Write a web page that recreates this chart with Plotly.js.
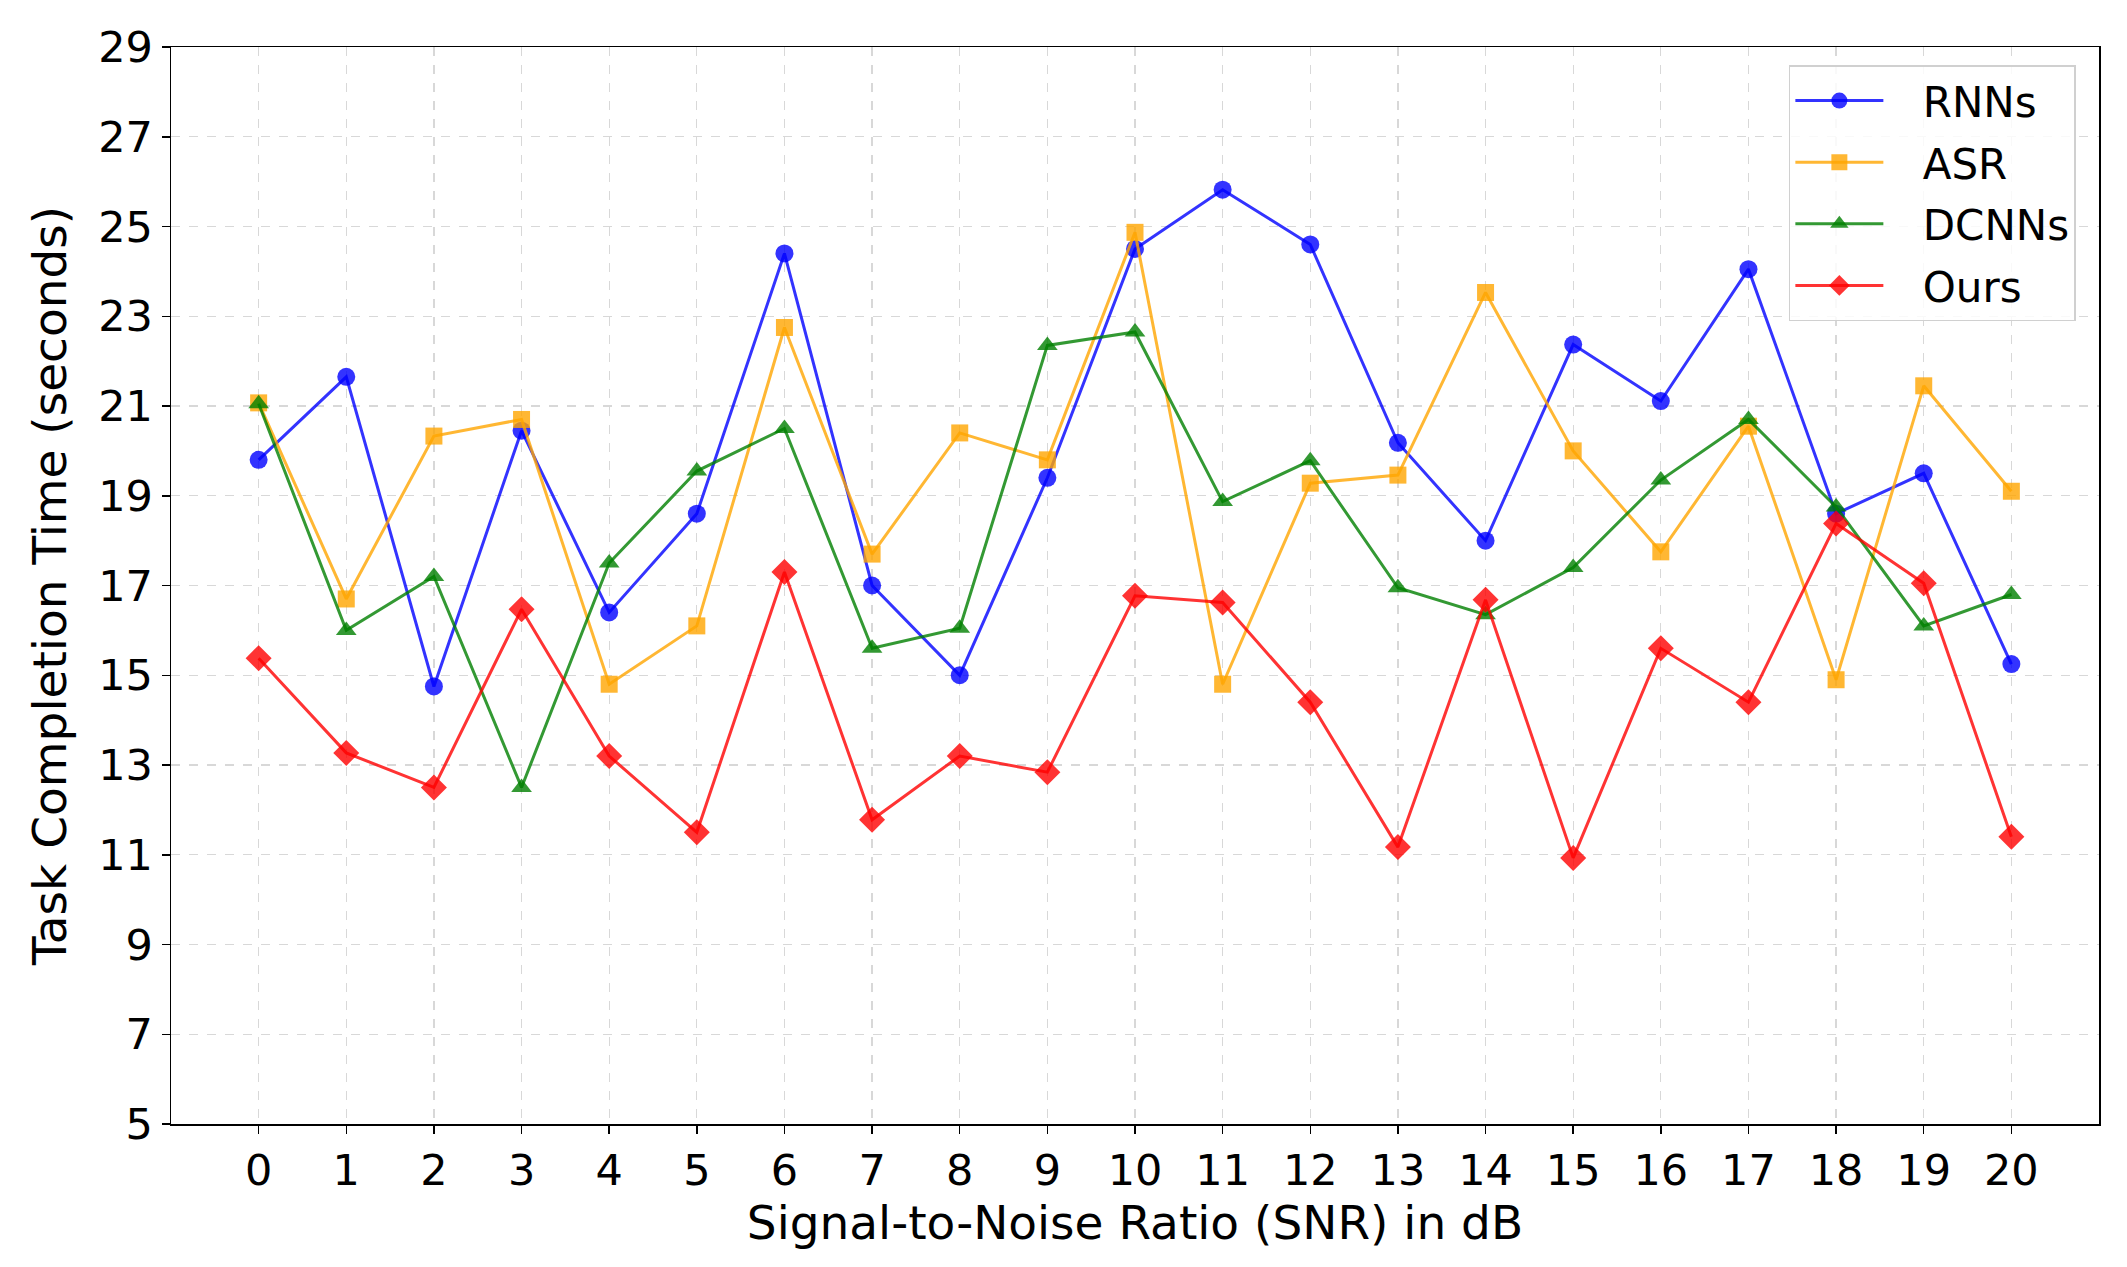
<!DOCTYPE html>
<html>
<head>
<meta charset="utf-8">
<script src="https://cdn.plot.ly/plotly-3.0.1.min.js"></script>
<style>html,body{margin:0;padding:0;background:#fff;}#chart{width:2127px;height:1267px;}</style>
</head>
<body>
<div id="chart"></div>
<script>
const snr = [0,1,2,3,4,5,6,7,8,9,10,11,12,13,14,15,16,17,18,19,20];
const tickLabels = ["0","1","2","3","4","5","6","7","8","9","10","11","12","13","14","15","16","17","18","19","20"];
const seriesNames = ["RNNs", "ASR", "DCNNs", "Ours"];
const rnns  = [19.8, 21.65, 14.75, 20.45, 16.4, 18.6, 24.4, 17.0, 15.0, 19.4, 24.5, 25.82, 24.6, 20.18, 18.0, 22.37, 21.11, 24.05, 18.6, 19.5, 15.25];
const asr   = [21.07, 16.7, 20.33, 20.7, 14.8, 16.1, 22.75, 17.7, 20.4, 19.8, 24.87, 14.8, 19.28, 19.46, 23.53, 20.0, 17.75, 20.55, 14.9, 21.45, 19.1];
const dcnns = [21.05, 16.0, 17.2, 12.5, 17.5, 19.55, 20.5, 15.6, 16.05, 22.35, 22.65, 18.87, 19.78, 16.95, 16.35, 17.4, 19.35, 20.7, 18.75, 16.1, 16.8];
const ours  = [15.38, 13.27, 12.5, 16.47, 13.2, 11.5, 17.3, 11.78, 13.2, 12.84, 16.77, 16.62, 14.4, 11.17, 16.68, 10.93, 15.6, 14.4, 18.38, 17.05, 11.4];
const yTicks = [5,7,9,11,13,15,17,19,21,23,25,27,29];

const FONT = 'DejaVu Sans, sans-serif';
function tr(idx, y, color, symbol, size) {
  return {
    x: snr, y: y, name: '\u2002\u00a0' + seriesNames[idx], legendgroup: 'g' + idx,
    type: 'scatter', mode: 'lines+markers',
    line: {color: color, width: 3},
    marker: {color: color, symbol: symbol, size: size, line: {width: 0}}
  };
}
const data = [
  tr(0, rnns, 'rgba(0,0,255,0.8)', 'circle', 18),
  tr(1, asr, 'rgba(255,165,0,0.8)', 'square', 17),
  tr(2, dcnns, 'rgba(0,128,0,0.8)', 'triangle-up', 18),
  tr(3, ours, 'rgba(255,0,0,0.8)', 'diamond', 20)
];
const axisCommon = {
  showline: true, linecolor: '#000', linewidth: 1.5, mirror: true,
  ticks: 'outside', ticklen: 8, tickwidth: 1.5, tickcolor: '#000',
  showgrid: true, gridcolor: 'rgba(190,190,190,0.6)', griddash: 'dash', gridwidth: 1.3,
  zeroline: false, tickfont: {family: FONT, size: 43, color: '#000'}
};
const layout = {
  width: 2127, height: 1267,
  paper_bgcolor: '#fff', plot_bgcolor: '#fff',
  margin: {l: 171, r: 28, t: 47, b: 143},
  showlegend: true,
  xaxis: Object.assign({}, axisCommon, {
    range: [-1, 21], tickmode: 'array', tickvals: snr, ticktext: tickLabels,
    title: {text: 'Signal-to-Noise Ratio (SNR) in dB', font: {family: FONT, size: 47, color: '#000'}, standoff: 6}
  }),
  yaxis: Object.assign({}, axisCommon, {
    range: [5, 29], tickmode: 'array', tickvals: yTicks,
    title: {text: 'Task Completion Time (seconds)', font: {family: FONT, size: 47, color: '#000'}, standoff: 16}
  }),
  legend: {
    x: 0.988, y: 0.983, xanchor: 'right', yanchor: 'top',
    bgcolor: 'rgba(255,255,255,0.85)', bordercolor: '#d0d0d0', borderwidth: 1.5,
    font: {family: FONT, size: 42, color: '#000'}, itemwidth: 88, tracegroupgap: 4
  }
};
Plotly.newPlot('chart', data, layout, {displayModeBar: false, staticPlot: true});
</script>
</body>
</html>
